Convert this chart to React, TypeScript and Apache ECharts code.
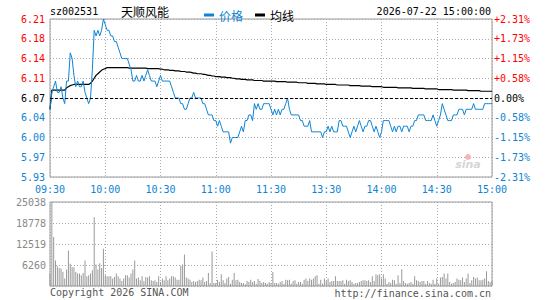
import React, { useEffect, useRef } from 'react';
import * as echarts from 'echarts';

const timeLabels = ['09:30', '10:00', '10:30', '11:00', '11:30', '13:30', '14:00', '14:30', '15:00'];
const priceLabels = ['5.93', '5.97', '6.00', '6.04', '6.07', '6.11', '6.14', '6.18', '6.21'];
const pctLabels = ['-2.31%', '-1.73%', '-1.15%', '-0.58%', '0.00%', '+0.58%', '+1.15%', '+1.73%', '+2.31%'];
const volumeLabels = ['', '6260', '12519', '18778', '25038'];

const prevClose = 6.07;
const priceMin = 5.93;
const priceMax = 6.21;
const volumeMax = 25038;

const prices = [
  6.05, 6.08, 6.09, 6.10, 6.08, 6.08, 6.09, 6.07, 6.06, 6.10,
  6.10, 6.15, 6.14, 6.11, 6.09, 6.10, 6.09, 6.09, 6.10, 6.08,
  6.07, 6.06, 6.07, 6.12, 6.19, 6.18, 6.19, 6.18, 6.19, 6.21,
  6.20, 6.19, 6.19, 6.18, 6.18, 6.17, 6.17, 6.16, 6.15, 6.14,
  6.14, 6.14, 6.14, 6.13, 6.12, 6.10, 6.10, 6.11, 6.10, 6.10,
  6.11, 6.10, 6.11, 6.12, 6.11, 6.10, 6.10, 6.10, 6.09, 6.10,
  6.11, 6.10, 6.10, 6.10, 6.10, 6.10, 6.09, 6.08, 6.07, 6.07,
  6.07, 6.06, 6.06, 6.05, 6.05, 6.06, 6.07, 6.07, 6.08, 6.07,
  6.07, 6.07, 6.07, 6.06, 6.06, 6.05, 6.04, 6.04, 6.04, 6.03,
  6.03, 6.02, 6.03, 6.02, 6.01, 6.01, 6.01, 6.01, 5.99, 6.00,
  6.00, 6.00, 6.00, 6.01, 6.02, 6.01, 6.03, 6.03, 6.04, 6.04,
  6.03, 6.06, 6.05, 6.06, 6.05, 6.05, 6.06, 6.06, 6.06, 6.06,
  6.05, 6.04, 6.05, 6.04, 6.05, 6.04, 6.05, 6.05, 6.06, 6.07,
  6.05, 6.04, 6.04, 6.04, 6.04, 6.04, 6.03, 6.03, 6.02, 6.02,
  6.02, 6.03, 6.01, 6.01, 6.01, 6.01, 6.01, 6.01, 6.00, 6.01,
  6.01, 6.02, 6.01, 6.02, 6.01, 6.01, 6.01, 6.03, 6.03, 6.02,
  6.02, 6.02, 6.01, 6.00, 6.01, 6.02, 6.01, 6.02, 6.03, 6.02,
  6.01, 6.02, 6.02, 6.03, 6.03, 6.02, 6.01, 6.02, 6.01, 6.00,
  6.01, 6.03, 6.03, 6.03, 6.03, 6.02, 6.01, 6.02, 6.01, 6.02,
  6.02, 6.01, 6.02, 6.02, 6.02, 6.01, 6.02, 6.02, 6.03, 6.03,
  6.04, 6.04, 6.04, 6.04, 6.03, 6.03, 6.03, 6.03, 6.04, 6.03,
  6.02, 6.03, 6.04, 6.06, 6.05, 6.04, 6.03, 6.03, 6.03, 6.04,
  6.04, 6.04, 6.05, 6.05, 6.05, 6.04, 6.05, 6.05, 6.05, 6.05,
  6.06, 6.05, 6.05, 6.05, 6.05, 6.05, 6.06, 6.06, 6.06, 6.06,
  6.06,
];

const avgPrices = [
  6.050,
  6.084, 6.084, 6.084, 6.084, 6.084, 6.084, 6.084, 6.084,
  6.088, 6.090, 6.092, 6.093,
  6.094, 6.094, 6.094, 6.094, 6.094, 6.094, 6.094, 6.094, 6.094,
  6.096, 6.100, 6.105, 6.110, 6.113, 6.116, 6.119, 6.121, 6.122,
  6.124, 6.124, 6.124, 6.124, 6.124, 6.124, 6.124, 6.124, 6.124, 6.124, 6.124, 6.124,
  6.123, 6.123, 6.123, 6.123, 6.123, 6.123, 6.123, 6.123, 6.123, 6.123,
  6.122, 6.122, 6.122, 6.122, 6.122, 6.122, 6.122,
  6.121, 6.121, 6.120, 6.120, 6.120, 6.119, 6.119, 6.119, 6.118,
  6.118, 6.118, 6.117, 6.117, 6.117, 6.116, 6.116, 6.116,
  6.115, 6.114, 6.114, 6.113, 6.113, 6.113, 6.112, 6.112,
  6.111, 6.110, 6.110, 6.109, 6.109, 6.108, 6.108, 6.108, 6.107, 6.107, 6.107, 6.106, 6.106, 6.106,
  6.105, 6.105, 6.104, 6.104, 6.104, 6.103, 6.103, 6.103, 6.102, 6.102, 6.102, 6.102, 6.101, 6.101,
  6.101, 6.101, 6.101, 6.100, 6.100, 6.100, 6.100, 6.100, 6.100, 6.100, 6.099, 6.099, 6.099,
  6.099, 6.099, 6.099, 6.098, 6.098, 6.098, 6.098, 6.098, 6.098, 6.097,
  6.097, 6.097, 6.097, 6.097, 6.096, 6.096, 6.096, 6.096, 6.096, 6.095,
  6.095, 6.095, 6.095, 6.095, 6.094, 6.094, 6.094, 6.094, 6.094, 6.094,
  6.093, 6.093, 6.093, 6.093, 6.093, 6.093, 6.093, 6.092, 6.092, 6.092,
  6.092, 6.092, 6.092, 6.091, 6.091, 6.091, 6.091, 6.091, 6.091, 6.090,
  6.090, 6.090, 6.090, 6.090, 6.090,
  6.089, 6.089, 6.089, 6.089, 6.089, 6.089, 6.089, 6.089,
  6.088, 6.088, 6.088, 6.088, 6.088, 6.088, 6.088, 6.088,
  6.087, 6.087, 6.087, 6.087, 6.087, 6.087, 6.087,
  6.086, 6.086, 6.086, 6.086, 6.086, 6.086, 6.086,
  6.085, 6.085, 6.085, 6.085, 6.085, 6.085, 6.085, 6.085,
  6.084, 6.084, 6.084, 6.084, 6.084, 6.084, 6.084, 6.084,
  6.083, 6.083, 6.083, 6.083, 6.083, 6.083, 6.083,
  6.082, 6.082, 6.082, 6.082, 6.082, 6.082, 6.082,
];

const volumes = [
  3700, 25038, 14600, 7600, 5900, 5400, 5200, 4200, 2200, 4900,
  10600, 6600, 5700, 5600, 4200, 3700, 3700, 3200, 3900, 7600,
  2900, 3200, 3700, 4700, 20500, 6400, 4900, 6800, 5400, 11100,
  3200, 2900, 2900, 2900, 2200, 2700, 3700, 2900, 2200, 1500,
  2200, 3200, 3200, 2500, 3700, 4900, 7600, 2200, 2500, 1700,
  2900, 1500, 2700, 2500, 2900, 1700, 1500, 1700, 1200, 2900,
  1200, 2200, 1700, 2900, 1700, 2200, 2900, 2900, 2500, 1900,
  1900, 6100, 6400, 9400, 2500, 2200, 1900, 1200, 1500, 1200,
  1500, 1900, 1700, 2500, 1200, 1500, 3900, 900, 10300, 900,
  900, 1900, 1200, 3500, 1700, 900, 2200, 2700, 700, 1900,
  3900, 1700, 1900, 1200, 900, 900, 500, 1500, 1200, 1900,
  1200, 1500, 700, 2100, 1500, 900, 1200, 900, 700, 1200,
  900, 4200, 900, 900, 700, 1200, 1500, 700, 1900, 1700,
  1900, 700, 1500, 1700, 700, 1200, 1200, 700, 1900, 2200,
  1500, 2200, 1900, 2200, 2900, 3200, 700, 1900, 700, 2200,
  1500, 2200, 1200, 1500, 1500, 2900, 1500, 1500, 1500, 1700,
  700, 1900, 1500, 1700, 1200, 700, 900, 900, 1200, 1500,
  1700, 1700, 1500, 1700, 1200, 2900, 1500, 3500, 3200, 3500,
  2200, 3500, 2200, 700, 1200, 900, 1900, 1700, 700, 3200,
  900, 5000, 1500, 900, 700, 900, 1200, 700, 2900, 1700,
  1500, 1200, 1500, 1500, 700, 1500, 900, 700, 1900, 700,
  2200, 700, 2500, 2700, 3700, 2200, 3700, 1200, 700, 900,
  1200, 2200, 1900, 1700, 2500, 1200, 2200, 3700, 900, 1700,
  2700, 2200, 2500, 1700, 1700, 1900, 2200, 4400, 1500, 1200,
  1500,
];

const BLUE = '#0d84d4';
const RED = '#ff0000';
const MONO = '"DejaVu Sans Mono", "Liberation Mono", monospace';
const CJK = '"Noto Sans CJK SC", sans-serif';
const DOTTED = { color: '#aaaaaa', width: 1, type: [1, 2] as number[] };

export default function App() {
  const ref = useRef<HTMLDivElement>(null);

  useEffect(() => {
    document.body.style.margin = '0';
    if (!ref.current) return;
    const chart = echarts.init(ref.current, undefined, { renderer: 'svg' });

    const priceData = prices.map((p, i) => [i, p]);
    const avgData = avgPrices.map((p, i) => [i, p]);
    const volumeData = volumes.map((v, i) => [i, v]);
    const volStep = volumeMax / 4;

    const sideColor = (val: any) => {
      const n = Math.round(Number(val));
      return n > 4 ? RED : n < 4 ? BLUE : '#000000';
    };

    const option: any = {
      animation: false,
      backgroundColor: '#ffffff',
      textStyle: { fontFamily: MONO },
      legend: {
        left: 199,
        top: 4,
        icon: 'rect',
        itemWidth: 10,
        itemHeight: 3,
        itemGap: 12,
        selectedMode: false,
        textStyle: { fontSize: 12, fontFamily: CJK },
        data: [
          { name: '价格', textStyle: { color: BLUE } },
          { name: '均线', textStyle: { color: '#000000' } },
        ],
      },
      grid: [
        { left: 50, right: 53, top: 19, height: 158, show: true, borderColor: '#999999', borderWidth: 1, backgroundColor: 'transparent' },
        { left: 50, right: 53, top: 202, height: 84, show: true, borderColor: '#999999', borderWidth: 1, backgroundColor: 'transparent' },
      ],
      xAxis: [
        {
          type: 'value', gridIndex: 0, min: 0, max: 240, interval: 30,
          axisLine: { show: false }, axisTick: { show: false },
          axisLabel: {
            color: BLUE, fontSize: 10, fontFamily: MONO, margin: 7,
            formatter: (v: number) => timeLabels[Math.round(v / 30)] || '',
          },
          splitLine: { show: true, lineStyle: DOTTED },
        },
        {
          type: 'value', gridIndex: 1, min: 0, max: 240, interval: 30,
          axisLine: { show: false }, axisTick: { show: false }, axisLabel: { show: false },
          splitLine: { show: true, lineStyle: DOTTED },
        },
      ],
      yAxis: [
        { type: 'value', gridIndex: 0, min: priceMin, max: priceMax, show: false, position: 'left', splitLine: { show: false } },
        {
          type: 'value', gridIndex: 0, min: 0, max: 8, interval: 1, position: 'left',
          axisLine: { show: false }, axisTick: { show: false },
          axisLabel: {
            fontSize: 10, fontFamily: MONO, margin: 5,
            color: sideColor,
            formatter: (v: number) => priceLabels[Math.round(v)] || '',
          },
          splitLine: { show: true, lineStyle: DOTTED },
        },
        {
          type: 'value', gridIndex: 0, min: 0, max: 8, interval: 1, position: 'right',
          axisLine: { show: false }, axisTick: { show: false },
          axisLabel: {
            fontSize: 10, fontFamily: MONO, margin: 2,
            color: sideColor,
            formatter: (v: number) => pctLabels[Math.round(v)] || '',
          },
          splitLine: { show: false },
        },
        {
          type: 'value', gridIndex: 1, min: 0, max: volumeMax, interval: volStep, position: 'left',
          axisLine: { show: false }, axisTick: { show: false },
          axisLabel: {
            fontSize: 10, fontFamily: MONO, margin: 4, color: '#888888',
            formatter: (v: number) => volumeLabels[Math.round(v / volStep)] || '',
          },
          splitLine: { show: true, lineStyle: DOTTED },
        },
      ],
      series: [
        {
          name: '价格', type: 'line', xAxisIndex: 0, yAxisIndex: 0, data: priceData,
          symbol: 'none', z: 4,
          lineStyle: { color: BLUE, width: 1 }, itemStyle: { color: BLUE },
          markLine: {
            silent: true, symbol: 'none', label: { show: false },
            lineStyle: { color: '#000000', type: [3, 2], width: 1.2 },
            data: [{ yAxis: prevClose }],
          },
        },
        {
          name: '均线', type: 'line', xAxisIndex: 0, yAxisIndex: 0, data: avgData,
          symbol: 'none', z: 3,
          lineStyle: { color: '#000000', width: 1.2 }, itemStyle: { color: '#000000' },
        },
        {
          name: '成交量', type: 'bar', xAxisIndex: 1, yAxisIndex: 3, data: volumeData,
          barWidth: 1, itemStyle: { color: '#999999' },
        },
      ],
      graphic: [
        { type: 'text', x: 50, y: 11, style: { text: 'sz002531', fill: '#000', font: `10px ${MONO}`, verticalAlign: 'middle', textVerticalAlign: 'middle' } },
        { type: 'text', x: 121, y: 11, style: { text: '天顺风能', fill: '#000', font: `12px ${CJK}`, verticalAlign: 'middle', textVerticalAlign: 'middle' } },
        { type: 'text', x: 491, y: 11, style: { text: '2026-07-22 15:00:00', fill: '#000', font: `10px ${MONO}`, align: 'right', textAlign: 'right', verticalAlign: 'middle', textVerticalAlign: 'middle' } },
        { type: 'text', x: 50, y: 292, style: { text: 'Copyright 2026 SINA.COM', fill: '#555', font: `10px ${MONO}`, verticalAlign: 'middle', textVerticalAlign: 'middle' } },
        { type: 'text', x: 491, y: 293, style: { text: 'http://finance.sina.com.cn', fill: '#555', font: `10px ${MONO}`, align: 'right', textAlign: 'right', verticalAlign: 'middle', textVerticalAlign: 'middle' } },
        { type: 'circle', shape: { cx: 468, cy: 157, r: 3 }, style: { fill: '#f5b5b5' }, z: 1 },
        { type: 'text', x: 468, y: 164, style: { text: 'sina', fill: '#d6d6d6', font: `italic bold 11px "DejaVu Sans", sans-serif`, align: 'center', textAlign: 'center', verticalAlign: 'middle', textVerticalAlign: 'middle' }, z: 1 },
      ],
    };

    chart.setOption(option);
    return () => chart.dispose();
  }, []);

  return <div ref={ref} style={{ width: 545, height: 300 }} />;
}
